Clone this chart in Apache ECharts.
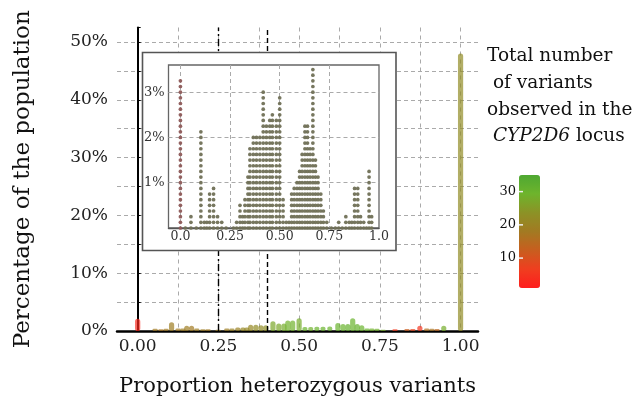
<!DOCTYPE html>
<html><head><meta charset="utf-8">
<script src="https://cdn.jsdelivr.net/npm/echarts@6/dist/echarts.min.js"></script>
<style>html,body{margin:0;padding:0;background:#fff}#c{width:634px;height:405px}</style>
</head><body><div id="c"></div>
<script>
// ---- main plot: proportion heterozygous, % of population, total variants ----
const mainX = [0.0, 0.054, 0.072, 0.088, 0.105, 0.125, 0.14, 0.152, 0.167, 0.183, 0.202, 0.218, 0.249, 0.276, 0.292, 0.31, 0.326, 0.338, 0.35, 0.366, 0.382, 0.397, 0.419, 0.437, 0.453, 0.465, 0.48, 0.5, 0.518, 0.536, 0.555, 0.574, 0.595, 0.62, 0.636, 0.651, 0.666, 0.68, 0.694, 0.71, 0.725, 0.741, 0.76, 0.797, 0.834, 0.852, 0.874, 0.895, 0.911, 0.927, 0.948, 1.0];
const mainPct = [2.1, 0.4, 0.3, 0.4, 1.5, 0.45, 0.45, 0.9, 0.9, 0.45, 0.3, 0.3, 0.2, 0.45, 0.45, 0.6, 0.6, 0.6, 1.1, 1.1, 1.0, 1.0, 1.7, 1.3, 1.3, 1.8, 1.8, 2.2, 0.7, 0.7, 0.75, 0.75, 0.8, 1.4, 1.2, 1.2, 2.2, 1.2, 1.0, 0.45, 0.45, 0.4, 0.2, 0.3, 0.35, 0.35, 0.9, 0.45, 0.4, 0.35, 0.9, 48];
const mainVariants = [3, 18, 17, 18, 19, 18, 19, 19, 18, 19, 19, 18, 19, 19, 20, 20, 21, 21, 21, 22, 22, 23, 27, 27, 28, 29, 29, 28, 30, 29, 30, 30, 30, 30, 30, 31, 30, 31, 30, 30, 29, 29, 28, 6, 12, 8, 5, 16, 17, 14, 28, 22];
const mainRefLines = [0.25, 0.40];

// ---- inset dot plot: column position and number of dots above the baseline ----
const insetX = [0.00, 0.025, 0.053, 0.08, 0.103, 0.12, 0.133, 0.147, 0.167, 0.187, 0.208, 0.23, 0.267, 0.283, 0.30, 0.313, 0.325, 0.34, 0.35, 0.367, 0.383, 0.40, 0.417, 0.433, 0.45, 0.463, 0.483, 0.50, 0.517, 0.533, 0.547, 0.56, 0.573, 0.587, 0.60, 0.613, 0.627, 0.64, 0.653, 0.667, 0.68, 0.693, 0.707, 0.72, 0.737, 0.76, 0.78, 0.797, 0.815, 0.833, 0.85, 0.863, 0.877, 0.893, 0.907, 0.923, 0.937, 0.95, 0.963];
const insetCount = [26, 0, 2, 0, 17, 1, 1, 6, 7, 2, 1, 0, 0, 1, 4, 2, 5, 9, 14, 16, 16, 16, 24, 18, 19, 20, 19, 23, 5, 1, 1, 6, 7, 8, 10, 13, 18, 18, 14, 28, 12, 9, 6, 3, 1, 0, 0, 1, 0, 2, 1, 1, 7, 7, 2, 1, 0, 10, 2];
const insetDotStep = 0.125;   // % per dot
const insetRefLines = [0.25, 0.46];

// ---- colour scale ----
const colorMin = 1, colorMax = 35;
const colorbarTicks = [10, 20, 30];
const legendTitle = 'Total number\n of variants\nobserved in the\n {i|CYP2D6} locus';

const FONT = 'DejaVu Serif';
const mainData = mainX.map((x, i) => [x, mainPct[i], mainVariants[i]]);
const dotsZero = [], dotsOther = [];
insetX.forEach((x, i) => {
  for (let k = 0; k <= insetCount[i]; k++) (i === 0 ? dotsZero : dotsOther).push([x, k * insetDotStep]);
});

const vm = { left: 519, top: 175, w: 21, h: 113 };
const cbY = t => vm.top + vm.h * (colorMax - t) / (colorMax - colorMin);

const isMult = (v, s) => Math.abs(v / s - Math.round(v / s)) < 1e-6;

const graphics = [
  { type: 'rect', z: 10, shape: { x: 142.5, y: 52.5, width: 253.5, height: 198 },
    style: { fill: '#fff', stroke: '#555', lineWidth: 1.6 } }
];
colorbarTicks.forEach(t => {
  graphics.push({ type: 'line', z: 30, shape: { x1: vm.left, y1: cbY(t), x2: vm.left + 4, y2: cbY(t) },
    style: { stroke: '#eee', lineWidth: 1.5 } });
  graphics.push({ type: 'text', z: 30, x: vm.left - 3, y: cbY(t),
    style: { text: String(t), font: '13px "DejaVu Serif"', fill: '#111', align: 'right', verticalAlign: 'middle' } });
});

const chart = echarts.init(document.getElementById('c'), null, { renderer: 'canvas' });
chart.setOption({
  animation: false,
  backgroundColor: '#fff',
  textStyle: { fontFamily: FONT },
  title: {
    text: legendTitle, left: 487, top: 43, padding: 0,
    textStyle: { fontFamily: FONT, fontSize: 18.5, fontWeight: 'normal', color: '#111', lineHeight: 26.7,
      rich: { i: { fontStyle: 'italic', fontFamily: FONT, fontSize: 18.5, color: '#111', lineHeight: 26.7 } } }
  },
  grid: [
    { left: 117, top: 27.5, width: 361, height: 303.5 },
    { left: 168.5, top: 65, width: 210.5, height: 163, show: true, borderColor: '#666', borderWidth: 1.3,
      backgroundColor: 'rgba(0,0,0,0)', z: 15 }
  ],
  xAxis: [
    { type: 'value', gridIndex: 0, min: -0.064, max: 1.054, minInterval: 0.125, maxInterval: 0.125,
      axisLine: { show: true, onZero: false, lineStyle: { color: '#000', width: 2.5 } },
      axisTick: { show: false },
      axisLabel: { fontSize: 17, color: '#222', margin: 7, fontFamily: FONT,
        formatter: v => (v >= 0 && isMult(v, 0.25)) ? v.toFixed(2) : '' },
      splitLine: { show: true, showMinLine: false, showMaxLine: false, lineStyle: { color: '#aaa', type: [4, 4], width: 1 } },
      name: 'Proportion heterozygous variants', nameLocation: 'middle', nameGap: 45,
      nameTextStyle: { fontSize: 21, color: '#111', fontFamily: FONT } },
    { type: 'value', gridIndex: 1, min: -0.06, max: 1.0, minInterval: 0.25, maxInterval: 0.25, z: 20,
      axisLine: { show: true, onZero: false, lineStyle: { color: '#555', width: 1.3 } },
      axisTick: { show: false },
      axisLabel: { fontSize: 12.5, color: '#333', margin: 2, fontFamily: FONT,
        formatter: v => v < 0 ? '' : (v === 0 || v === 1) ? v.toFixed(1) : v.toFixed(2) },
      splitLine: { show: true, showMinLine: false, showMaxLine: false, lineStyle: { color: '#aaa', type: [4, 3], width: 1 } } }
  ],
  yAxis: [
    { type: 'value', gridIndex: 0, min: 0, max: 52.5, interval: 5,
      axisLine: { show: true, lineStyle: { color: '#000', width: 2 } },
      axisTick: { show: true, inside: true, length: 3, lineStyle: { color: '#000' } },
      axisLabel: { fontSize: 17, color: '#222', margin: 9, fontFamily: FONT,
        formatter: v => (isMult(v, 10)) ? v + '%' : '' },
      splitLine: { show: true, showMinLine: false, showMaxLine: false, lineStyle: { color: '#aaa', type: [4, 3], width: 1 } },
      name: 'Percentage of the population', nameLocation: 'middle', nameGap: 82,
      nameTextStyle: { fontSize: 23, color: '#111', fontFamily: FONT } },
    { type: 'value', gridIndex: 1, min: 0, max: 3.6, interval: 1, z: 20,
      axisLine: { show: false }, axisTick: { show: false },
      axisLabel: { fontSize: 13, color: '#333', margin: 4, fontFamily: FONT,
        formatter: v => (v > 0 && isMult(v, 1)) ? v + '%' : '' },
      splitLine: { show: true, showMinLine: false, showMaxLine: false, lineStyle: { color: '#aaa', type: [4, 3], width: 1 } } }
  ],
  visualMap: {
    type: 'continuous', seriesIndex: 0, dimension: 2, min: colorMin, max: colorMax,
    left: vm.left, top: vm.top, itemWidth: vm.w, itemHeight: vm.h, padding: 0, calculable: false,
    inRange: { color: ['#ff1e1e', '#ef3e1f', '#c85e1f', '#a27a22', '#8c9226', '#6eb42c', '#4ea832'] }
  },
  series: [
    { type: 'bar', xAxisIndex: 0, yAxisIndex: 0, data: mainData, barWidth: 5.2,
      encode: { x: 0, y: 1 },
      itemStyle: { opacity: 0.7, borderRadius: 2.6 },
      markLine: { silent: true, symbol: 'none', label: { show: false },
        data: [
          { xAxis: mainRefLines[0], lineStyle: { color: '#000', width: 1.4, type: [7, 3, 2, 3] } },
          { xAxis: mainRefLines[1], lineStyle: { color: '#000', width: 1.4, type: [5, 3] } }
        ] } },
    { type: 'scatter', xAxisIndex: 1, yAxisIndex: 1, z: 20, data: dotsZero, symbolSize: 3.7,
      itemStyle: { color: '#8e5a58', opacity: 0.95 } },
    { type: 'scatter', xAxisIndex: 1, yAxisIndex: 1, z: 20, data: dotsOther, symbolSize: 3.7,
      itemStyle: { color: '#707056', opacity: 0.95 },
      markLine: { silent: true, symbol: 'none', label: { show: false },
        data: [
          { xAxis: insetRefLines[0], lineStyle: { color: '#000', width: 1.3, type: [6, 2, 1.5, 2] } },
          { xAxis: insetRefLines[1], lineStyle: { color: '#000', width: 1.3, type: [4, 2] } }
        ] } }
  ],
  graphic: { elements: graphics }
});
</script></body></html>
